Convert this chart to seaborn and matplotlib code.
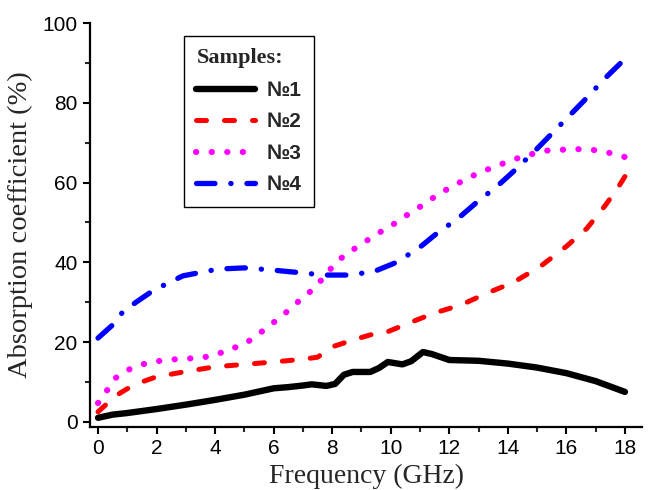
import numpy as np
import matplotlib
matplotlib.use("Agg")
import matplotlib.pyplot as plt
import seaborn as sns
from matplotlib.ticker import MultipleLocator

# sample 1 (black, solid)
x1 = [0, 0.5, 1, 2, 3, 4, 5, 6, 6.5, 7, 7.3, 7.8, 8.1, 8.4, 8.7, 9.3, 9.6, 9.9,
      10.4, 10.7, 11.1, 11.4, 12, 13, 14, 15, 16, 17, 18]
y1 = [1, 1.8, 2.2, 3.2, 4.3, 5.5, 6.8, 8.4, 8.7, 9.1, 9.4, 9.0, 9.5, 11.8, 12.5,
      12.5, 13.5, 15.0, 14.4, 15.2, 17.5, 17.0, 15.5, 15.3, 14.6, 13.6, 12.2, 10.2, 7.5]
# sample 2 (red, dashed)
x2 = [0, 0.3, 0.6, 1, 1.5, 2, 3, 4, 5, 6, 7, 7.5, 8, 8.7, 9.3, 9.9, 10.2, 10.7,
      11.5, 12.4, 13.3, 14.2, 15.1, 16, 16.7, 17.3, 17.7, 18]
y2 = [2.5, 4.5, 6.5, 8.3, 10, 11.3, 12.6, 13.8, 14.4, 15, 15.7, 16.2, 18.8, 20.5,
      21.8, 22.6, 23.5, 25, 27.3, 29.3, 32.3, 35, 38.9, 44, 48.5, 54, 58, 61.5]
# sample 3 (magenta, dotted)
x3 = [0, 0.3, 0.6, 1.15, 1.7, 2.3, 2.9, 3.4, 3.9, 4.45, 5, 5.4, 5.8, 6.3, 6.7, 7.2,
      7.6, 7.9, 8.3, 8.8, 9.3, 9.8, 10.2, 10.7, 11.2, 11.6, 12.1, 12.6, 13.1, 13.7,
      14.2, 14.8, 15.3, 15.8, 16.3, 16.9, 17.5, 18]
y3 = [4.7, 7.8, 11, 13.5, 14.8, 15.5, 15.8, 16, 16.5, 18, 19.5, 21.5, 23.8, 26.6,
      29.3, 32.3, 35.3, 38, 41, 43.6, 46, 48.3, 50, 52.6, 54.8, 57, 59, 61, 62.7,
      64.4, 65.8, 67.1, 68, 68.2, 68.4, 68.2, 67.4, 66.4]
# sample 4 (blue, dash-dot)
x4 = [0, 0.5, 0.85, 1.3, 1.9, 2.4, 2.9, 3.6, 4.1, 5, 5.9, 6.6, 7.1, 7.6, 8.5, 9.4,
      10.2, 11, 11.6, 12.3, 12.9, 13.7, 14.3, 15, 15.8, 16.6, 17.3, 18]
y4 = [21, 24.3, 27.6, 30, 33, 34.8, 36.6, 37.6, 38.3, 38.6, 38.1, 37.6, 37.3, 36.8,
      36.8, 37.6, 40, 43.8, 47.4, 51, 54.8, 59.5, 63.5, 68.5, 74.5, 80.5, 86, 91]

labels = ["№1", "№2", "№3", "№4"]

sns.set_style("ticks")
plt.rcParams["font.family"] = ["Liberation Sans", "DejaVu Sans"]

fig, ax = plt.subplots(figsize=(6.53, 4.9), dpi=100)
fig.subplots_adjust(left=0.138, right=0.983, bottom=0.129, top=0.953)

sns.lineplot(x=x1, y=y1, color="black", lw=4.6, label=labels[0],
             solid_capstyle="round", ax=ax)
sns.lineplot(x=x2, y=y2, color="#ff0000", lw=3.6, label=labels[1],
             linestyle=(0, (2.0, 3.6)), dash_capstyle="round", ax=ax)
sns.lineplot(x=x3, y=y3, color="#ff00ff", lw=4.4, label=labels[2],
             linestyle=(0, (0.05, 2.5)), dash_capstyle="round", ax=ax)
sns.lineplot(x=x4, y=y4, color="#0000ff", lw=3.8, label=labels[3],
             linestyle=(0, (3.5, 3.0, 0.05, 3.0)), dash_capstyle="round", ax=ax)

ax.set_xlim(-0.27, 18.58)
ax.set_ylim(-1.25, 100)
ax.xaxis.set_major_locator(MultipleLocator(2))
ax.xaxis.set_minor_locator(MultipleLocator(1))
ax.yaxis.set_major_locator(MultipleLocator(20))
ax.yaxis.set_minor_locator(MultipleLocator(10))
ax.tick_params(which="major", direction="out", length=5, width=1.5,
               labelsize=15, colors="black", pad=4)
ax.tick_params(which="minor", direction="out", length=3.5, width=1.5)

sns.despine(ax=ax)
for s in ["left", "bottom"]:
    ax.spines[s].set_linewidth(1.6)
    ax.spines[s].set_color("black")

ax.set_xlabel("Frequency (GHz)", family="Liberation Serif", fontsize=20, labelpad=4)
ax.set_ylabel("Absorption coefficient (%)", family="Liberation Serif", fontsize=20.5,
              labelpad=7)

leg = ax.legend(loc="upper left", bbox_to_anchor=(0.17, 0.968), borderaxespad=0,
                frameon=True, fancybox=False, edgecolor="black", framealpha=1,
                title="Samples:", alignment="left", handlelength=2.8,
                handletextpad=0.55, labelspacing=0.6, borderpad=0.6,
                prop={"weight": "bold", "size": 15},
                title_fontproperties={"family": "Liberation Serif",
                                      "weight": "bold", "size": 16})
leg.get_frame().set_linewidth(1.0)

fig.savefig("out.png", dpi=100)
